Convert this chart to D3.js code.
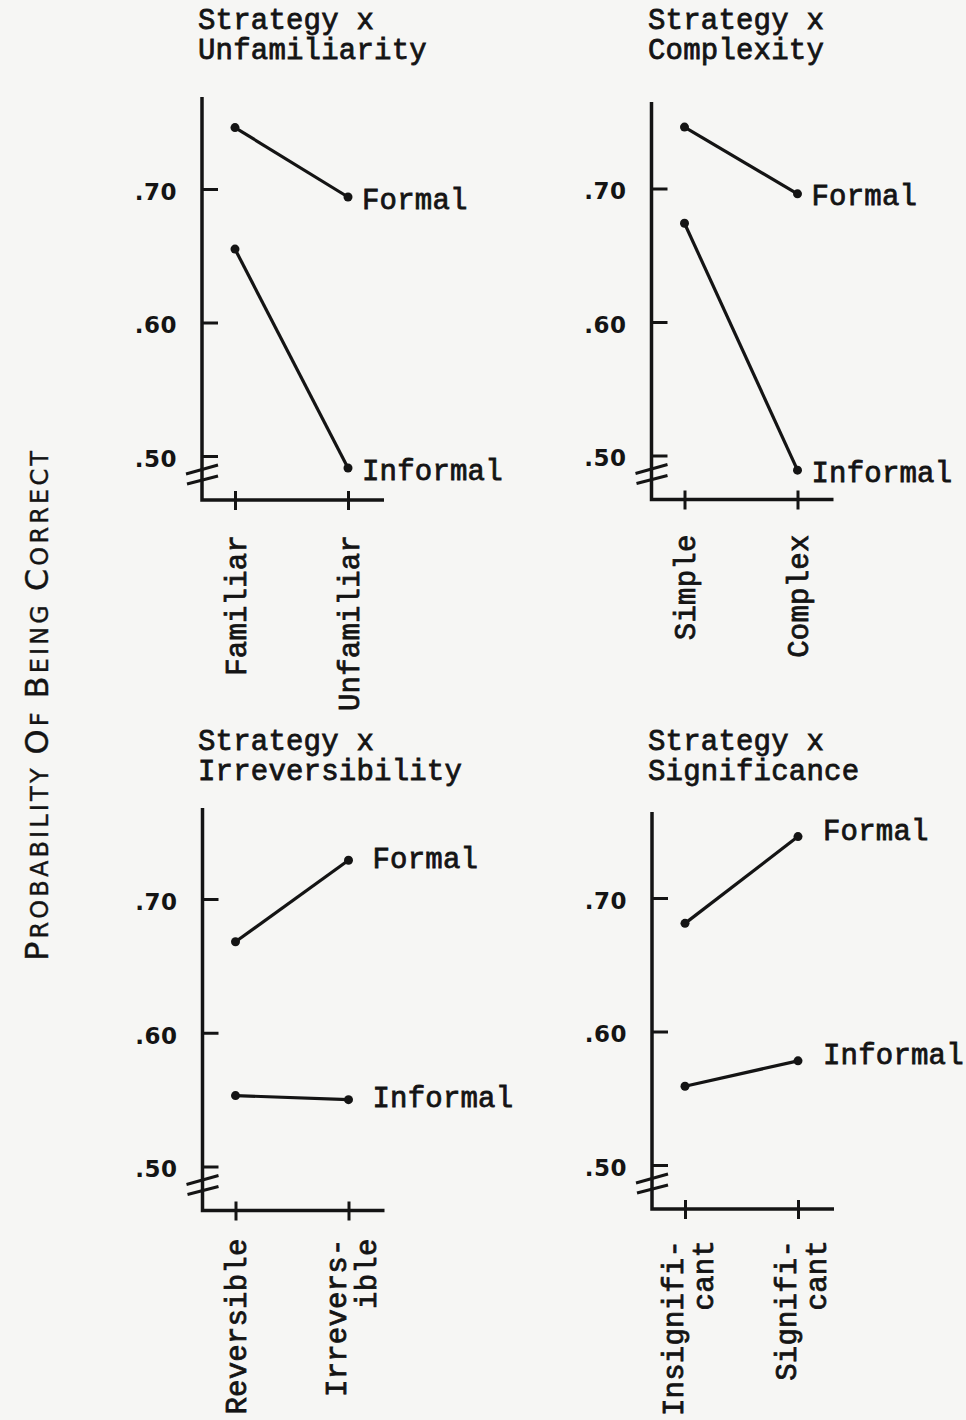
<!DOCTYPE html>
<html>
<head>
<meta charset="utf-8">
<script src="https://cdn.jsdelivr.net/npm/d3@7"></script>
<style>
  html, body { margin: 0; padding: 0; background: #f6f6f4; }
  svg { display: block; }
  .mono { font-family: "Liberation Mono", "Courier New", monospace; font-size: 29px; fill: #141414; stroke: #141414; stroke-width: 0.8px; letter-spacing: 0.2px; }
  .tick-label { font-family: "DejaVu Sans", sans-serif; font-size: 23px; font-weight: bold; fill: #141414; letter-spacing: 0.5px; }
</style>
</head>
<body>
<svg id="chart" width="966" height="1420"></svg>
<script>
// Panel titles (two lines each)
const panelTitles = [
  ["Strategy x", "Unfamiliarity"],
  ["Strategy x", "Complexity"],
  ["Strategy x", "Irreversibility"],
  ["Strategy x", "Significance"]
];

// Condition levels on each x axis (split into typed lines)
const levelLabels = [
  [["Familiar"], ["Unfamiliar"]],
  [["Simple"], ["Complex"]],
  [["Reversible"], ["Irrevers-", "ible"]],
  [["Insignifi-", "cant"], ["Signifi-", "cant"]]
];

// Probability of being correct, per panel: [first level, second level]
const formal = [
  [0.746, 0.694],
  [0.746, 0.696],
  [0.668, 0.729],
  [0.681, 0.746]
];
const informal = [
  [0.655, 0.491],
  [0.674, 0.489],
  [0.553, 0.550],
  [0.559, 0.578]
];

const seriesNames = ["Formal", "Informal"];
const yTickValues = [0.50, 0.60, 0.70];
const yTickLabels = [".50", ".60", ".70"];
const yTitleWords = ["Probability", "of", "Being", "Correct"];

// Panel placement on the page
const panels = [
  { ax: 202,   y70: 189,   y50: 456,    top: 97,  titleX: 198, titleY: 29,  labelDx: 14, labelDy: 4,  levelTop: 35 },
  { ax: 651.5, y70: 188.5, y50: 455.5,  top: 102, titleX: 648, titleY: 29,  labelDx: 14, labelDy: 4,  levelTop: 35 },
  { ax: 202.5, y70: 899,   y50: 1166.5, top: 808, titleX: 198, titleY: 750, labelDx: 24, labelDy: 0,  levelTop: 28 },
  { ax: 652,   y70: 898,   y50: 1165,   top: 812, titleX: 648, titleY: 750, labelDx: 25, labelDy: -4, levelTop: 31 }
];

const ink = "#141414";
const svg = d3.select("#chart");

panels.forEach((P, i) => {
  const g = svg.append("g");
  const levelNames = levelLabels[i].map(l => l.join(""));
  const y = d3.scaleLinear().domain([0.5, 0.7]).range([P.y50, P.y70]);
  const x = d3.scalePoint().domain(levelNames).range([P.ax + 33, P.ax + 146]);
  const xAxisY = P.y50 + 44;

  // title
  const t = g.append("text").attr("class", "mono")
    .attr("x", P.titleX).attr("y", P.titleY);
  panelTitles[i].forEach((line, k) => {
    t.append("tspan").attr("x", P.titleX).attr("dy", k === 0 ? 0 : 30).text(line);
  });

  // axis frame: vertical axis down to the corner, then along the bottom
  g.append("path")
    .attr("d", `M${P.ax},${P.top}V${xAxisY}H${P.ax + 182}`)
    .attr("fill", "none").attr("stroke", ink).attr("stroke-width", 3.5)
    .attr("stroke-linejoin", "miter");

  // y ticks and labels
  const yAxis = g.append("g").attr("transform", `translate(${P.ax},0)`)
    .call(d3.axisLeft(y).tickValues(yTickValues)
      .tickFormat((d, k) => yTickLabels[k]).tickSize(-16).tickPadding(25));
  yAxis.select(".domain").remove();
  yAxis.selectAll("line").attr("stroke", ink).attr("stroke-width", 3);
  yAxis.selectAll("text").attr("class", "tick-label").attr("dy", "0.45em");

  // axis break marks
  [[-16, 18, 16, 9], [-15, 28, 16, 20]].forEach(b => {
    g.append("line")
      .attr("x1", P.ax + b[0]).attr("y1", P.y50 + b[1])
      .attr("x2", P.ax + b[2]).attr("y2", P.y50 + b[3])
      .attr("stroke", ink).attr("stroke-width", 3);
  });

  // x ticks crossing the bottom axis
  const xAxis = g.append("g").attr("transform", `translate(0,${xAxisY})`)
    .call(d3.axisBottom(x).tickSize(10).tickFormat(""));
  xAxis.select(".domain").remove();
  xAxis.selectAll("line").attr("y1", -9).attr("stroke", ink).attr("stroke-width", 3);

  // rotated level labels
  levelLabels[i].forEach((lines, j) => {
    const cx = x(levelNames[j]) + 3;
    const offsets = lines.length === 1 ? [0] : [-13, 17];
    lines.forEach((line, k) => {
      g.append("text").attr("class", "mono")
        .attr("transform", `translate(${cx + offsets[k]},${xAxisY + P.levelTop}) rotate(-90)`)
        .attr("text-anchor", "end")
        .attr("dominant-baseline", "central")
        .text(line);
    });
  });

  // series lines, points and end labels
  const line = d3.line().x((d, k) => x(levelNames[k])).y(d => y(d));
  [formal[i], informal[i]].forEach((vals, s) => {
    g.append("path").attr("d", line(vals))
      .attr("fill", "none").attr("stroke", ink).attr("stroke-width", 3.2);
    g.selectAll(null).data(vals).enter().append("circle")
      .attr("cx", (d, k) => x(levelNames[k])).attr("cy", d => y(d))
      .attr("r", 4.5).attr("fill", ink);
    g.append("text").attr("class", "mono")
      .attr("x", x(levelNames[1]) + P.labelDx)
      .attr("y", y(vals[1]) + P.labelDy)
      .attr("dominant-baseline", "central")
      .text(seriesNames[s]);
  });
});

// shared y title in small capitals
const yt = svg.append("text")
  .attr("transform", "translate(48,706) rotate(-90)")
  .attr("text-anchor", "middle")
  .attr("font-family", "DejaVu Sans, sans-serif")
  .attr("fill", ink)
  .attr("stroke", ink).attr("stroke-width", 0.4)
  .attr("textLength", 510)
  .attr("lengthAdjust", "spacing");
yTitleWords.forEach((w, k) => {
  yt.append("tspan").attr("font-size", 32).text(w[0].toUpperCase());
  yt.append("tspan").attr("font-size", 24)
    .text(w.slice(1).toUpperCase() + (k < yTitleWords.length - 1 ? " " : ""));
});
</script>
</body>
</html>
